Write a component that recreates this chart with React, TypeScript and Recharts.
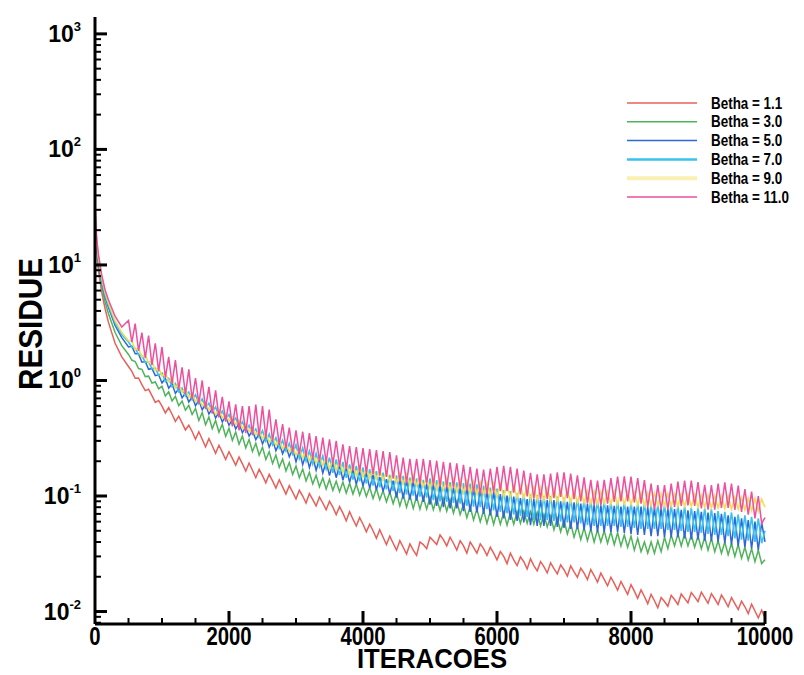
import React from "react"
import { LineChart, Line, XAxis, YAxis, Legend, Label } from "recharts"

// iteration counts (x)
const iterations = [
  0, 25, 50, 100, 150, 200, 300, 400,
  500, 550, 600, 650, 700, 750, 800, 850, 900, 950,
  1000, 1050, 1100, 1150, 1200, 1250, 1300, 1350, 1400, 1450,
  1500, 1550, 1600, 1650, 1700, 1750, 1800, 1850, 1900, 1950,
  2000, 2050, 2100, 2150, 2200, 2250, 2300, 2350, 2400, 2450,
  2500, 2550, 2600, 2650, 2700, 2750, 2800, 2850, 2900, 2950,
  3000, 3050, 3100, 3150, 3200, 3250, 3300, 3350, 3400, 3450,
  3500, 3550, 3600, 3650, 3700, 3750, 3800, 3850, 3900, 3950,
  4000, 4050, 4100, 4150, 4200, 4250, 4300, 4350, 4400, 4450,
  4500, 4550, 4600, 4650, 4700, 4750, 4800, 4850, 4900, 4950,
  5000, 5050, 5100, 5150, 5200, 5250, 5300, 5350, 5400, 5450,
  5500, 5550, 5600, 5650, 5700, 5750, 5800, 5850, 5900, 5950,
  6000, 6050, 6100, 6150, 6200, 6250, 6300, 6350, 6400, 6450,
  6500, 6550, 6600, 6650, 6700, 6750, 6800, 6850, 6900, 6950,
  7000, 7050, 7100, 7150, 7200, 7250, 7300, 7350, 7400, 7450,
  7500, 7550, 7600, 7650, 7700, 7750, 7800, 7850, 7900, 7950,
  8000, 8050, 8100, 8150, 8200, 8250, 8300, 8350, 8400, 8450,
  8500, 8550, 8600, 8650, 8700, 8750, 8800, 8850, 8900, 8950,
  9000, 9050, 9100, 9150, 9200, 9250, 9300, 9350, 9400, 9450,
  9500, 9550, 9600, 9650, 9700, 9750, 9800, 9850, 9900, 9950,
  10000,
]

const betha11 = [
  25, 13, 9, 5.8, 4.2, 3.2, 2.1, 1.6,
  1.32, 1.2, 1.045, 1.05, 0.92, 0.817, 0.84, 0.74, 0.646, 0.672,
  0.6, 0.524, 0.583, 0.51, 0.442, 0.491, 0.43, 0.373, 0.41, 0.362,
  0.31, 0.36, 0.31, 0.267, 0.314, 0.272, 0.234, 0.275, 0.24, 0.207,
  0.242, 0.212, 0.185, 0.217, 0.19, 0.164, 0.193, 0.167, 0.144, 0.17,
  0.15, 0.13, 0.154, 0.135, 0.117, 0.138, 0.12, 0.104, 0.123, 0.108,
  0.0945, 0.112, 0.1, 0.087, 0.105, 0.093, 0.082, 0.098, 0.087, 0.076,
  0.09, 0.08, 0.069, 0.081, 0.071, 0.061, 0.073, 0.063, 0.055, 0.065,
  0.057, 0.049, 0.057, 0.05, 0.043, 0.051, 0.044, 0.038, 0.045, 0.039,
  0.034, 0.041, 0.036, 0.0315, 0.0385, 0.034, 0.0306, 0.04, 0.038, 0.035,
  0.044, 0.041, 0.038, 0.046, 0.042, 0.037, 0.044, 0.039, 0.034, 0.041,
  0.037, 0.032, 0.04, 0.036, 0.032, 0.0385, 0.035, 0.0306, 0.036, 0.032,
  0.028, 0.033, 0.03, 0.026, 0.032, 0.028, 0.025, 0.0297, 0.027, 0.0234,
  0.0286, 0.025, 0.0225, 0.027, 0.0245, 0.0216, 0.0264, 0.0235, 0.0212, 0.0253,
  0.023, 0.0203, 0.0248, 0.022, 0.0198, 0.0237, 0.0215, 0.0189, 0.0231, 0.0205,
  0.018, 0.0215, 0.019, 0.0167, 0.0198, 0.0175, 0.0153, 0.0182, 0.016, 0.0141,
  0.0171, 0.015, 0.013, 0.0154, 0.0135, 0.0117, 0.0141, 0.0124, 0.0108, 0.0132,
  0.0122, 0.0111, 0.0138, 0.0127, 0.0115, 0.0142, 0.013, 0.0119, 0.0146, 0.0134,
  0.0122, 0.0147, 0.0132, 0.0118, 0.0143, 0.0129, 0.0115, 0.0139, 0.0125, 0.011,
  0.0132, 0.0117, 0.0104, 0.0123, 0.011, 0.0096, 0.0116, 0.0101, 0.0088, 0.0103,
  0.0088,
]

const betha30 = [
  27, 14, 10, 6.5, 4.8, 3.8, 2.6, 2.0,
  1.68, 1.5, 1.46, 1.27, 1.25, 1.08, 1.09, 0.95, 0.97, 0.845,
  0.89, 0.735, 0.8, 0.665, 0.728, 0.605, 0.663, 0.553, 0.61, 0.507,
  0.572, 0.45, 0.528, 0.414, 0.484, 0.383, 0.451, 0.356, 0.418, 0.329,
  0.385, 0.303, 0.358, 0.281, 0.33, 0.261, 0.308, 0.243, 0.286, 0.225,
  0.264, 0.207, 0.242, 0.191, 0.226, 0.177, 0.209, 0.165, 0.195, 0.154,
  0.182, 0.144, 0.171, 0.135, 0.16, 0.127, 0.151, 0.12, 0.143, 0.115,
  0.139, 0.112, 0.134, 0.109, 0.132, 0.106, 0.129, 0.104, 0.127, 0.102,
  0.123, 0.099, 0.119, 0.095, 0.116, 0.093, 0.111, 0.089, 0.108, 0.086,
  0.106, 0.082, 0.103, 0.08, 0.101, 0.078, 0.099, 0.077, 0.098, 0.077,
  0.097, 0.076, 0.096, 0.075, 0.095, 0.074, 0.093, 0.071, 0.09, 0.069,
  0.085, 0.065, 0.081, 0.062, 0.077, 0.06, 0.075, 0.058, 0.074, 0.057,
  0.073, 0.057, 0.072, 0.056, 0.072, 0.057, 0.073, 0.058, 0.074, 0.058,
  0.073, 0.057, 0.072, 0.055, 0.069, 0.054, 0.067, 0.051, 0.064, 0.049,
  0.062, 0.047, 0.058, 0.044, 0.055, 0.042, 0.053, 0.041, 0.052, 0.04,
  0.051, 0.04, 0.05, 0.039, 0.049, 0.038, 0.048, 0.037, 0.046, 0.036,
  0.045, 0.034, 0.043, 0.033, 0.04, 0.032, 0.04, 0.032, 0.041, 0.033,
  0.044, 0.035, 0.046, 0.037, 0.047, 0.037, 0.047, 0.037, 0.046, 0.036,
  0.045, 0.035, 0.044, 0.034, 0.043, 0.033, 0.041, 0.032, 0.04, 0.031,
  0.039, 0.03, 0.038, 0.029, 0.036, 0.028, 0.035, 0.027, 0.034, 0.026,
  0.028,
]

const betha50 = [
  28, 15, 11, 7.2, 5.3, 4.3, 3.0, 2.35,
  1.95, 1.98, 1.7, 1.7, 1.44, 1.46, 1.25, 1.27, 1.1, 1.12,
  0.95, 1.04, 0.856, 0.936, 0.772, 0.851, 0.707, 0.781, 0.651, 0.722,
  0.605, 0.675, 0.558, 0.621, 0.512, 0.572, 0.474, 0.529, 0.437, 0.491,
  0.409, 0.459, 0.381, 0.427, 0.353, 0.396, 0.33, 0.369, 0.307, 0.346,
  0.282, 0.33, 0.264, 0.308, 0.246, 0.288, 0.232, 0.272, 0.218, 0.255,
  0.198, 0.246, 0.187, 0.233, 0.176, 0.22, 0.167, 0.209, 0.158, 0.199,
  0.15, 0.193, 0.144, 0.185, 0.137, 0.176, 0.131, 0.169, 0.126, 0.163,
  0.122, 0.158, 0.117, 0.152, 0.113, 0.146, 0.109, 0.14, 0.104, 0.136,
  0.097, 0.139, 0.095, 0.136, 0.093, 0.133, 0.091, 0.13, 0.089, 0.127,
  0.084, 0.126, 0.082, 0.123, 0.08, 0.121, 0.078, 0.118, 0.078, 0.117,
  0.074, 0.118, 0.073, 0.116, 0.072, 0.114, 0.07, 0.11, 0.068, 0.108,
  0.066, 0.104, 0.064, 0.101, 0.062, 0.099, 0.061, 0.096, 0.059, 0.094,
  0.056, 0.094, 0.055, 0.093, 0.055, 0.092, 0.055, 0.092, 0.054, 0.09,
  0.053, 0.089, 0.052, 0.088, 0.052, 0.086, 0.051, 0.085, 0.05, 0.084,
  0.049, 0.083, 0.049, 0.083, 0.049, 0.082, 0.049, 0.081, 0.048, 0.081,
  0.047, 0.081, 0.046, 0.081, 0.046, 0.08, 0.045, 0.079, 0.045, 0.079,
  0.044, 0.078, 0.044, 0.077, 0.044, 0.076, 0.043, 0.075, 0.042, 0.074,
  0.042, 0.073, 0.041, 0.072, 0.041, 0.071, 0.04, 0.07, 0.039, 0.068,
  0.038, 0.066, 0.037, 0.064, 0.036, 0.062, 0.035, 0.06, 0.034, 0.059,
  0.04,
]

const betha70 = [
  29, 15.5, 11.4, 7.5, 5.5, 4.5, 3.15, 2.5,
  2.15, 1.95, 1.9, 1.68, 1.64, 1.44, 1.45, 1.26, 1.28, 1.11,
  1.16, 0.978, 1.044, 0.88, 0.941, 0.8, 0.862, 0.734, 0.794, 0.679,
  0.751, 0.628, 0.693, 0.578, 0.636, 0.532, 0.59, 0.492, 0.544, 0.457,
  0.508, 0.427, 0.474, 0.397, 0.439, 0.368, 0.41, 0.343, 0.381, 0.322,
  0.368, 0.298, 0.344, 0.278, 0.32, 0.26, 0.303, 0.245, 0.286, 0.23,
  0.278, 0.211, 0.261, 0.2, 0.246, 0.189, 0.234, 0.18, 0.222, 0.171,
  0.215, 0.159, 0.207, 0.152, 0.197, 0.144, 0.188, 0.139, 0.182, 0.134,
  0.177, 0.128, 0.171, 0.123, 0.164, 0.119, 0.159, 0.114, 0.152, 0.111,
  0.151, 0.106, 0.149, 0.103, 0.144, 0.101, 0.142, 0.099, 0.138, 0.097,
  0.142, 0.092, 0.137, 0.09, 0.134, 0.089, 0.132, 0.087, 0.131, 0.086,
  0.129, 0.082, 0.128, 0.081, 0.126, 0.08, 0.123, 0.077, 0.118, 0.075,
  0.116, 0.073, 0.112, 0.071, 0.11, 0.069, 0.106, 0.067, 0.104, 0.066,
  0.103, 0.062, 0.102, 0.062, 0.1, 0.062, 0.1, 0.061, 0.099, 0.06,
  0.097, 0.059, 0.095, 0.059, 0.094, 0.058, 0.093, 0.056, 0.092, 0.055,
  0.09, 0.055, 0.09, 0.055, 0.089, 0.055, 0.089, 0.054, 0.088, 0.054,
  0.088, 0.053, 0.086, 0.052, 0.086, 0.052, 0.084, 0.052, 0.084, 0.052,
  0.083, 0.051, 0.083, 0.051, 0.082, 0.05, 0.081, 0.049, 0.079, 0.049,
  0.079, 0.048, 0.078, 0.047, 0.077, 0.046, 0.074, 0.046, 0.073, 0.045,
  0.072, 0.043, 0.069, 0.042, 0.068, 0.041, 0.066, 0.04, 0.064, 0.039,
  0.05,
]

const betha90 = [
  30, 16, 11.8, 7.8, 5.8, 4.7, 3.3, 2.6,
  2.21, 2.2, 1.85, 1.9, 1.6, 1.68, 1.41, 1.48, 1.22, 1.3,
  1.09, 1.17, 0.98, 1.04, 0.865, 0.933, 0.79, 0.848, 0.714, 0.774,
  0.658, 0.71, 0.602, 0.652, 0.555, 0.599, 0.508, 0.551, 0.475, 0.516,
  0.442, 0.482, 0.414, 0.451, 0.385, 0.422, 0.362, 0.394, 0.338, 0.369,
  0.313, 0.349, 0.293, 0.326, 0.274, 0.305, 0.256, 0.286, 0.242, 0.27,
  0.225, 0.257, 0.213, 0.244, 0.202, 0.232, 0.193, 0.221, 0.184, 0.212,
  0.173, 0.207, 0.167, 0.2, 0.16, 0.193, 0.155, 0.187, 0.15, 0.182,
  0.146, 0.176, 0.142, 0.173, 0.14, 0.168, 0.137, 0.165, 0.133, 0.161,
  0.131, 0.157, 0.128, 0.154, 0.125, 0.152, 0.123, 0.149, 0.121, 0.146,
  0.116, 0.147, 0.114, 0.144, 0.113, 0.142, 0.111, 0.14, 0.109, 0.138,
  0.107, 0.136, 0.106, 0.133, 0.104, 0.131, 0.103, 0.13, 0.101, 0.128,
  0.1, 0.127, 0.099, 0.124, 0.098, 0.123, 0.097, 0.122, 0.096, 0.121,
  0.094, 0.119, 0.093, 0.118, 0.092, 0.116, 0.091, 0.115, 0.09, 0.114,
  0.089, 0.113, 0.088, 0.112, 0.088, 0.111, 0.087, 0.11, 0.086, 0.11,
  0.086, 0.11, 0.086, 0.109, 0.085, 0.109, 0.085, 0.108, 0.085, 0.108,
  0.084, 0.107, 0.084, 0.107, 0.083, 0.106, 0.083, 0.106, 0.083, 0.105,
  0.082, 0.105, 0.082, 0.104, 0.081, 0.104, 0.081, 0.103, 0.081, 0.103,
  0.08, 0.102, 0.08, 0.101, 0.079, 0.101, 0.079, 0.1, 0.078, 0.1,
  0.077, 0.098, 0.077, 0.097, 0.076, 0.096, 0.075, 0.095, 0.074, 0.094,
  0.08,
]

const betha110 = [
  34, 17, 12.5, 8.2, 6.1, 5.0, 3.6, 2.9,
  3.3, 2.15, 3.1, 1.8, 2.6, 1.56, 2.45, 1.36, 2.1, 1.2,
  1.95, 1.06, 1.6, 0.94, 1.5, 0.84, 1.3, 0.76, 1.25, 0.69,
  1.05, 0.63, 1.0, 0.57, 0.88, 0.52, 0.82, 0.48, 0.72, 0.44,
  0.66, 0.4, 0.62, 0.37, 0.6, 0.35, 0.6, 0.34, 0.62, 0.33,
  0.6, 0.32, 0.56, 0.3, 0.46, 0.28, 0.42, 0.26, 0.39, 0.24,
  0.37, 0.23, 0.36, 0.22, 0.35, 0.21, 0.33, 0.2, 0.32, 0.196,
  0.31, 0.188, 0.3, 0.18, 0.28, 0.172, 0.27, 0.166, 0.265, 0.162,
  0.26, 0.158, 0.255, 0.154, 0.25, 0.15, 0.245, 0.146, 0.24, 0.141,
  0.225, 0.134, 0.215, 0.13, 0.21, 0.129, 0.21, 0.128, 0.21, 0.128,
  0.205, 0.124, 0.202, 0.122, 0.198, 0.119, 0.195, 0.118, 0.192, 0.115,
  0.186, 0.111, 0.179, 0.107, 0.173, 0.104, 0.169, 0.104, 0.173, 0.107,
  0.179, 0.11, 0.182, 0.11, 0.179, 0.107, 0.173, 0.103, 0.166, 0.099,
  0.159, 0.095, 0.154, 0.094, 0.154, 0.094, 0.156, 0.096, 0.16, 0.098,
  0.16, 0.096, 0.156, 0.094, 0.151, 0.09, 0.145, 0.086, 0.138, 0.083,
  0.136, 0.083, 0.138, 0.086, 0.143, 0.089, 0.147, 0.09, 0.148, 0.09,
  0.147, 0.088, 0.143, 0.086, 0.137, 0.08, 0.128, 0.076, 0.124, 0.076,
  0.124, 0.076, 0.128, 0.08, 0.133, 0.082, 0.136, 0.083, 0.136, 0.082,
  0.132, 0.078, 0.125, 0.076, 0.124, 0.076, 0.128, 0.079, 0.131, 0.079,
  0.128, 0.076, 0.123, 0.073, 0.115, 0.069, 0.109, 0.064, 0.1, 0.058,
  0.065,
]

const xTicks = [0, 500, 1000, 1500, 2000, 2500, 3000, 3500, 4000, 4500, 5000, 5500, 6000, 6500, 7000, 7500, 8000, 8500, 9000, 9500, 10000]
const yTicks = [
  0.008, 0.009, 0.01, 0.02, 0.03, 0.04, 0.05, 0.06, 0.07, 0.08, 0.09,
  0.1, 0.2, 0.3, 0.4, 0.5, 0.6, 0.7, 0.8, 0.9,
  1, 2, 3, 4, 5, 6, 7, 8, 9,
  10, 20, 30, 40, 50, 60, 70, 80, 90,
  100, 200, 300, 400, 500, 600, 700, 800, 900, 1000,
]
const decades = [0.01, 0.1, 1, 10, 100, 1000]

const series = [
  { key: "b11", name: "Betha = 1.1", values: betha11, color: "#e8605a", width: 1.5 },
  { key: "b30", name: "Betha = 3.0", values: betha30, color: "#4fb35a", width: 1.5 },
  { key: "b50", name: "Betha = 5.0", values: betha50, color: "#2f66d8", width: 1.5 },
  { key: "b70", name: "Betha = 7.0", values: betha70, color: "#38c2ee", width: 1.6 },
  { key: "b90", name: "Betha = 9.0", values: betha90, color: "#f2de55", width: 1.6 },
  { key: "b110", name: "Betha = 11.0", values: betha110, color: "#ee4f9e", width: 1.5 },
]

const data = iterations.map((it, i) => {
  const row: Record<string, number> = { iter: it }
  series.forEach((s) => {
    row[s.key] = s.values[i]
  })
  return row
})

const FONT = "'Liberation Sans', Arial, Helvetica, sans-serif"

const YTick = (props: any) => {
  const { x, y, payload } = props
  const v = payload.value
  const isMajor = decades.some((d) => Math.abs(d - v) / d < 1e-6)
  if (!isMajor) {
    return <line x1={x} x2={x + 6} y1={y} y2={y} stroke="#000" strokeWidth={2} />
  }
  const exp = Math.round(Math.log10(v))
  return (
    <g>
      <line x1={x} x2={x + 12} y1={y} y2={y} stroke="#000" strokeWidth={3} />
      <text x={x - 14} y={y + 8} textAnchor="end" fontFamily={FONT} fontWeight="bold" fontSize={23} fill="#000">
        10
        <tspan dy={-11} fontSize={13}>
          {exp}
        </tspan>
      </text>
    </g>
  )
}

const XTick = (props: any) => {
  const { x, y, payload } = props
  const v = payload.value
  const isMajor = v % 2000 === 0
  return (
    <g>
      {v !== 0 && (
        <line x1={x} x2={x} y1={y} y2={y - (isMajor ? 13 : 6)} stroke="#000" strokeWidth={isMajor ? 3 : 2} />
      )}
      {isMajor && (
        <text
          transform={`translate(${x},${y + 21}) scale(0.78,1)`}
          textAnchor="middle"
          fontFamily={FONT}
          fontWeight="bold"
          fontSize={26}
          fill="#000"
        >
          {v}
        </text>
      )}
    </g>
  )
}

const LegendBox = () => (
  <svg width={185} height={120}>
    {series.map((s, i) => {
      const cy = 9 + i * 18.8
      const w = i === 4 ? 4 : i === 3 ? 2.5 : 1.5
      return (
        <g key={s.key}>
          <line x1={0} x2={70} y1={cy} y2={cy} stroke={s.color} strokeWidth={w} strokeOpacity={i === 4 ? 0.45 : 1} />
          <text
            transform={`translate(84,${cy + 5.5}) scale(0.84,1)`}
            fontFamily={FONT}
            fontWeight="bold"
            fontSize={16}
            fill="#000"
          >
            {s.name}
          </text>
        </g>
      )
    })}
  </svg>
)

export default function App() {
  return (
    <div style={{ position: "relative", width: 796, height: 667, background: "#fff" }}>
      <div style={{ position: "absolute", left: 467, top: -3, width: 5, height: 3, background: "#000" }} />
      <LineChart width={796} height={667} data={data} margin={{ top: 9, right: 39, bottom: 0, left: 0 }}>
        <XAxis
          dataKey="iter"
          type="number"
          domain={[0, 10000]}
          ticks={xTicks}
          interval={0}
          height={51}
          tickSize={0}
          tickMargin={0}
          tickLine={false}
          tick={<XTick />}
          axisLine={{ stroke: "#000", strokeWidth: 3 }}
        >
          <Label
            content={(p: any) => {
              const vb = p.viewBox
              return (
                <text
                  transform={`translate(${vb.x + vb.width / 2 + 2},${vb.y + vb.height - 7}) scale(0.92,1)`}
                  textAnchor="middle"
                  fontFamily={FONT}
                  fontWeight="bold"
                  fontSize={28}
                  fill="#000"
                >
                  ITERACOES
                </text>
              )
            }}
          />
        </XAxis>
        <YAxis
          type="number"
          scale="log"
          domain={[0.0078, 1400]}
          allowDataOverflow
          ticks={yTicks}
          interval={0}
          width={87}
          tickSize={0}
          tickMargin={0}
          tickLine={false}
          tick={<YTick />}
          axisLine={{ stroke: "#000", strokeWidth: 3 }}
        >
          <Label
            content={() => (
              <text
                transform="translate(34,316) rotate(-90) scale(0.9,1)"
                textAnchor="middle"
                fontFamily={FONT}
                fontWeight="bold"
                fontSize={33}
                fill="#000"
              >
                RESIDUE
              </text>
            )}
          />
        </YAxis>
        <Legend
          layout="horizontal"
          verticalAlign="middle"
          align="center"
          content={<LegendBox />}
          wrapperStyle={{ position: "absolute", left: 619, top: 86, width: 185, height: 120 }}
        />
        {series.map((s) => (
          <Line
            key={s.key}
            type="linear"
            dataKey={s.key}
            name={s.name}
            stroke={s.color}
            strokeWidth={s.width}
            dot={false}
            activeDot={false}
            isAnimationActive={false}
          />
        ))}
      </LineChart>
    </div>
  )
}
